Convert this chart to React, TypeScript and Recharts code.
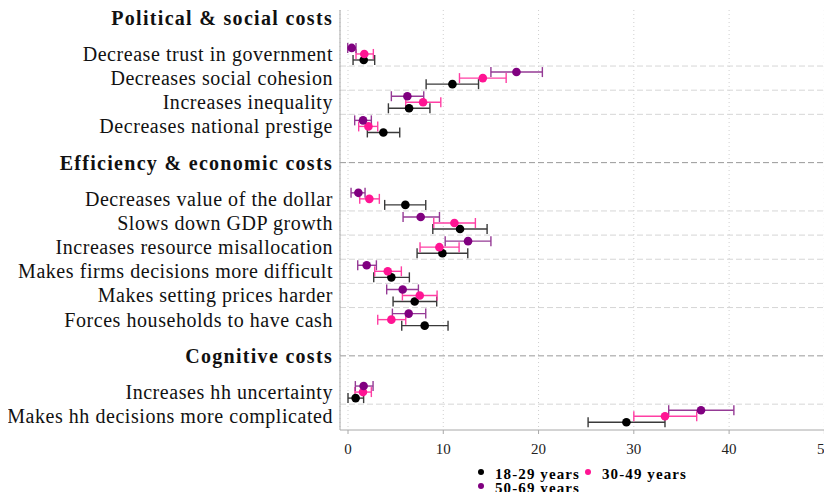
import React from 'react';
import { ScatterChart, Scatter, XAxis, YAxis, CartesianGrid, ErrorBar, ReferenceLine, Legend } from 'recharts';

const sections = ['Political & social costs', 'Efficiency & economic costs', 'Cognitive costs'];
const sectionItems = [
  ['Decrease trust in government', 'Decreases social cohesion', 'Increases inequality', 'Decreases national prestige'],
  [
    'Decreases value of the dollar',
    'Slows down GDP growth',
    'Increases resource misallocation',
    'Makes firms decisions more difficult',
    'Makes setting prices harder',
    'Forces households to have cash',
  ],
  ['Increases hh uncertainty', 'Makes hh decisions more complicated'],
];

// estimates and bounds, in the order the items are listed above
const young = [1.65, 10.96, 6.41, 3.71, 6.02, 11.76, 9.91, 4.55, 7.0, 8.05, 0.8, 29.22];
const youngLo = [0.53, 8.2, 4.24, 2.03, 3.85, 8.9, 7.25, 2.7, 4.73, 5.64, 0.0, 25.2];
const youngHi = [2.8, 13.7, 8.6, 5.43, 8.16, 14.6, 12.57, 6.44, 9.31, 10.5, 1.64, 33.27];

const middle = [1.71, 14.15, 7.88, 2.14, 2.24, 11.17, 9.59, 4.17, 7.53, 4.55, 1.57, 33.27];
const middleLo = [0.84, 11.7, 6.06, 1.12, 1.23, 9.0, 7.56, 2.8, 5.71, 3.12, 0.73, 30.0];
const middleHi = [2.66, 16.6, 9.74, 3.12, 3.29, 13.37, 11.66, 5.6, 9.35, 6.06, 2.45, 36.6];

const older = [0.39, 17.68, 6.23, 1.58, 1.09, 7.63, 12.6, 1.96, 5.74, 6.37, 1.64, 37.05];
const olderLo = [-0.03, 15.0, 4.55, 0.7, 0.32, 5.78, 10.2, 1.02, 4.06, 4.66, 0.77, 33.66];
const olderHi = [0.84, 20.4, 7.95, 2.45, 1.79, 9.6, 15.0, 2.98, 7.39, 8.16, 2.63, 40.5];

const xTicks = [0, 10, 20, 30, 40, 50];

// row layout: header, then its items one per row
const rows: { label: string; pos: number; header: boolean }[] = [];
let p = -0.5;
sections.forEach((s, i) => {
  rows.push({ label: s, pos: p, header: true });
  sectionItems[i].forEach((it, j) => rows.push({ label: it, pos: p + 1.5 + j, header: false }));
  p = p + sectionItems[i].length + 2;
});
const itemPos = rows.filter((r) => !r.header).map((r) => r.pos);
const headerLines = rows.filter((r) => r.header).slice(1).map((r) => r.pos);
const minorLines: number[] = [];
let k = 0;
sectionItems.forEach((items) => {
  items.forEach((_, j) => {
    if (j > 0) minorLines.push(itemPos[k + j] - 0.5);
  });
  k += items.length;
});

const build = (v: number[], lo: number[], hi: number[], off: number) =>
  v.map((x, i) => ({ x, y: itemPos[i] + off, err: [x - lo[i], hi[i] - x] }));

const series = [
  { name: '18-29 years', data: build(young, youngLo, youngHi, 0.25), color: '#000000', bar: '#3a3a3a' },
  { name: '30-49 years', data: build(middle, middleLo, middleHi, 0), color: '#ff1493', bar: '#ff3fa4' },
  { name: '50-69 years', data: build(older, olderLo, olderHi, -0.25), color: '#800080', bar: '#953a95' },
];

const serif = '"Liberation Serif", "DejaVu Serif", serif';

const YTick = (props: any) => {
  const { x, y, payload } = props;
  const row = rows.find((r) => Math.abs(r.pos - payload.value) < 0.01);
  if (!row) return null;
  return (
    <text x={x} y={y} dy="0.35em" textAnchor="end" fontFamily={serif} fontSize={20}
      letterSpacing={row.header ? 1.3 : 0.55} fontWeight={row.header ? 'bold' : 'normal'} fill="#111">
      {row.label}
    </text>
  );
};

const legendSpots = [
  { left: 478, top: 4 },
  { left: 585, top: 4 },
  { left: 478, top: 18 },
];

const LegendBox = (props: any) => {
  const items = props.payload || [];
  return (
    <div style={{ position: 'relative', height: 36, width: 832, fontFamily: serif, fontWeight: 'bold', fontSize: 15 }}>
      {items.map((it: any, i: number) => (
        <div key={it.value} style={{ position: 'absolute', left: legendSpots[i].left, top: legendSpots[i].top, whiteSpace: 'nowrap', lineHeight: '13px' }}>
          <span style={{ display: 'inline-block', width: 6, height: 6, borderRadius: 3, background: it.color, marginRight: 11, verticalAlign: 4 }} />
          <span style={{ letterSpacing: 1.1 }}>{it.value}</span>
        </div>
      ))}
    </div>
  );
};

export default function App() {
  return (
    <div style={{ margin: -8, width: 832, height: 500, background: '#fff' }}>
      <ScatterChart width={832} height={500} margin={{ top: 10, right: 0, bottom: 0, left: 0 }}>
        <CartesianGrid horizontal={false} stroke="#cfcfcf" strokeDasharray="1 3" />
        <XAxis type="number" dataKey="x" domain={[-0.84, 50.8]} ticks={xTicks} allowDataOverflow
          height={34} tickSize={4} tickMargin={9} stroke="#a8a8a8"
          tick={{ fontFamily: serif, fontSize: 15, fill: '#222' }} />
        <YAxis type="number" dataKey="y" domain={[-0.82, 16.57]} reversed allowDataOverflow
          ticks={rows.map((r) => r.pos)} interval={0} width={340} tickLine={false} tickSize={0}
          tickMargin={7} stroke="#a8a8a8" tick={<YTick />} />
        {minorLines.map((y) => (
          <ReferenceLine key={'m' + y} y={y} stroke="#d6d6d6" strokeDasharray="6 3" />
        ))}
        {headerLines.map((y) => (
          <ReferenceLine key={'h' + y} y={y} stroke="#999999" strokeDasharray="6 3" />
        ))}
        <Legend verticalAlign="bottom" height={36}
          wrapperStyle={{ left: 0, top: 464, bottom: 'auto', width: 832, height: 36 }} content={<LegendBox />} />
        {series.map((s) => (
          <Scatter key={s.name} name={s.name} data={s.data} fill={s.color} isAnimationActive={false}
            shape={(pr: any) => <circle cx={pr.cx} cy={pr.cy} r={4.3} fill={s.color} />}>
            <ErrorBar dataKey="err" direction="x" width={5} stroke={s.bar} strokeWidth={1.4} />
          </Scatter>
        ))}
      </ScatterChart>
    </div>
  );
}
